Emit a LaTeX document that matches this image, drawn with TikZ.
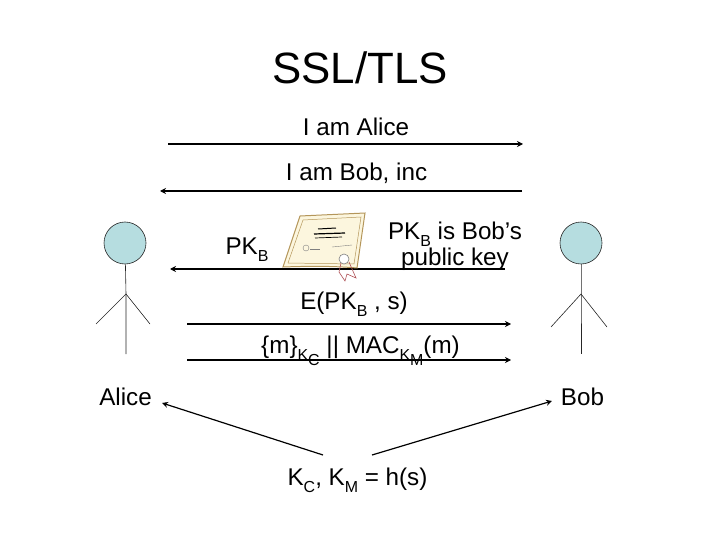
\documentclass[tikz,border=0pt]{standalone}
\usepackage{fontspec}
\setmainfont{Liberation Sans}
\usepackage{tikz}
\usetikzlibrary{arrows.meta}
\tikzstyle{label}=[inner sep=0pt, anchor=base, font=\fontsize{24.3}{28}\selectfont]
\tikzstyle{msg}=[line width=1.5pt, -{Stealth[length=6pt, width=6pt]}]
\tikzstyle{limb}=[line width=0.6pt, black!85]
\definecolor{teal}{RGB}{182,221,224}
\tikzstyle{head}=[circle, draw=black!85, line width=0.6pt, fill=teal, minimum size=42bp, inner sep=0pt]
\definecolor{paper}{RGB}{252,246,222}
\definecolor{frame}{RGB}{180,150,90}
\definecolor{ribbon}{RGB}{175,80,85}
\def\Sb#1{\raisebox{-0.3em}{\fontsize{16}{18}\selectfont #1}}
\begin{document}
\begin{tikzpicture}[x=1bp, y=-1bp]
		\useasboundingbox (0,0) rectangle (720,540);
		\node[label, font=\fontsize{44}{48}\selectfont] (title) at (360,84) {SSL/TLS};
		\node[label] (hello) at (356,136) {I am Alice};
		\node[label] (reply) at (356.5,181) {I am Bob, inc};
		\node[label] (pk) at (247,254.5) {PK\Sb{B}};
		\node[label, align=center, font=\fontsize{24.3}{27}\selectfont] (note) at (455,266) {PK\Sb{B} is Bob’s\\public key};
		\node[label] (enc) at (354,309) {E(PK\Sb{B} , s)};
		\node[label] (rec) at (360.5,353) {\{m\}\Sb{K\Sb{C}} || MAC\Sb{K\Sb{M}}(m)};
		\node[label] (alice) at (125.5,405) {Alice};
		\node[label] (bob) at (582.5,405) {Bob};
		\node[label] (keys) at (357.5,485) {K\Sb{C}, K\Sb{M} = h(s)};
		%---------------------
		\node[head] (headA) at (125,243) {};
		\node[head] (headB) at (581,243) {};
		\coordinate (hipA) at (126,294);
		\coordinate (hipB) at (581,294);
		\draw[limb] (headA)--(hipA)--(126,354);
		\draw[limb] (96,324)--(hipA)--(150,324);
		\draw[limb] (headB)--(hipB)--(581,354);
		\draw[limb] (551,327)--(hipB)--(607,327);
		%---------------------
		\draw[msg] (168,144)--(523,144);
		\draw[msg] (522,191)--(160,191);
		\draw[msg] (505,269)--(170,269);
		\draw[msg] (187,324)--(511,324);
		\draw[msg] (187,360)--(511,360);
		\draw[msg, line width=1.2pt] (323,455)--(162,403);
		\draw[msg, line width=1.2pt] (372,455)--(552,401);
		%---------------------
		\draw[frame, fill=paper, line width=1pt] (300,216)--(365,213)--(357,268)
			.. controls (335,266) and (310,266) .. (283,267)--cycle;
		\draw[frame, line width=0.5pt] (303,220)--(361,217)--(354,264)--(288,263)--cycle;
		\draw[black, line width=1pt] (318,229)--(336,228);
		\draw[black, line width=1.2pt] (314,234)--(345,233);
		\draw[black, line width=0.7pt] (315,238)--(342,237);
		\draw[gray, line width=0.4pt] (306,248) circle (3);
		\draw[gray, line width=0.4pt] (310,249)--(320,249);
		\draw[gray, line width=0.4pt] (332,247)--(352,245);
		\draw[ribbon, line width=0.6pt] (341,263)--(339,272)--(345,281)--(347,274)--(356,278)--(349,262);
		\draw[gray, fill=white, line width=0.6pt] (344,259) circle (5);
\end{tikzpicture}
\end{document}
